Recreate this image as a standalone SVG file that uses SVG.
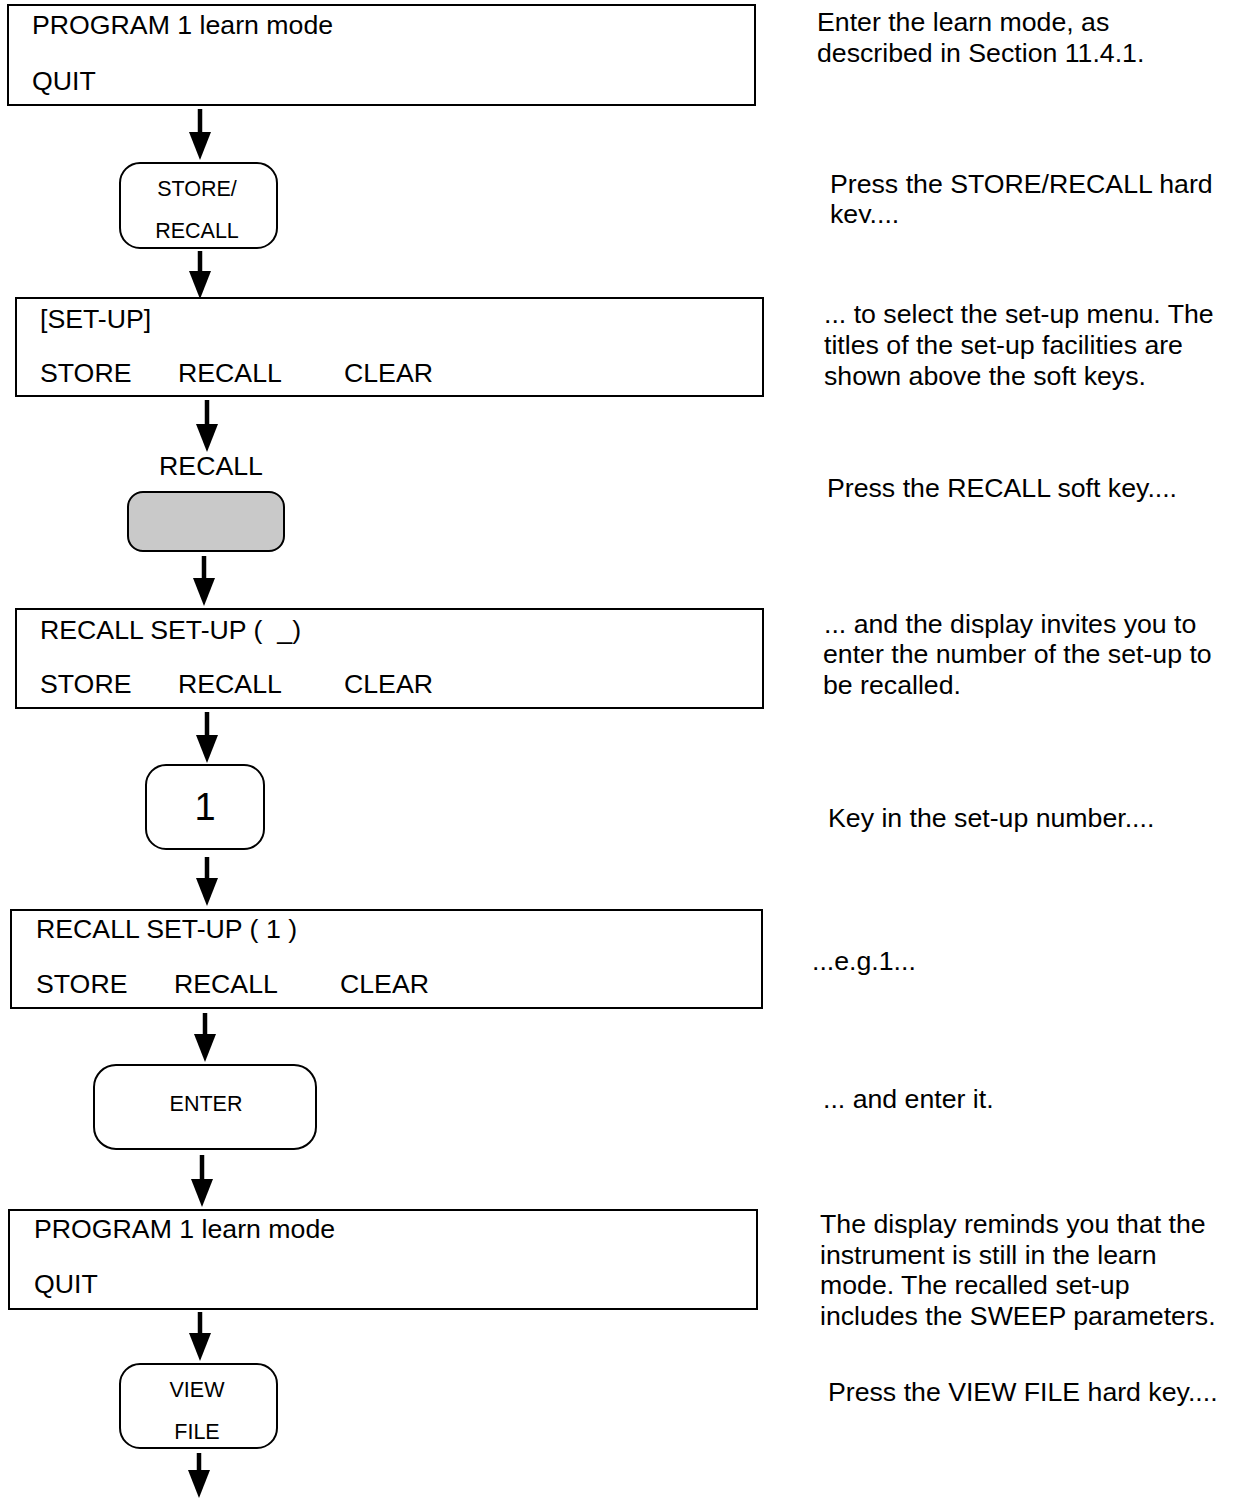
<svg xmlns="http://www.w3.org/2000/svg" width="1234" height="1499" viewBox="0 0 1234 1499">
<style>
.box{fill:#fff;stroke:#000;stroke-width:2}
.key{fill:#fff;stroke:#000;stroke-width:2}
.soft{fill:#c9c9c9;stroke:#000;stroke-width:2}
text{font-family:"Liberation Sans",Arial,sans-serif;fill:#000}
.t{font-size:26.7px}
.k{font-size:21.5px;text-anchor:middle}
.n{font-size:26.7px}
.arrow{stroke:#000;stroke-width:4.5;fill:none;marker-end:url(#ah)}
</style>
<defs>
<marker id="ah" markerUnits="userSpaceOnUse" markerWidth="28" markerHeight="22" viewBox="0 0 28 22" refX="18" refY="11" orient="auto">
<path d="M0,0 L28,11 L0,22 z" fill="#000"/>
</marker>
<clipPath id="clip2"><rect x="800" y="170" width="434" height="53"/></clipPath>
</defs>

<g id="connectors">
<line class="arrow" x1="200" y1="109" x2="200" y2="150"/>
<line class="arrow" x1="200" y1="251" x2="200" y2="289"/>
<line class="arrow" x1="207" y1="400" x2="207" y2="442"/>
<line class="arrow" x1="204" y1="556" x2="204" y2="596"/>
<line class="arrow" x1="207" y1="712" x2="207" y2="753"/>
<line class="arrow" x1="207" y1="857" x2="207" y2="896"/>
<line class="arrow" x1="205" y1="1013" x2="205" y2="1052"/>
<line class="arrow" x1="202" y1="1155" x2="202" y2="1197"/>
<line class="arrow" x1="200" y1="1312" x2="200" y2="1351"/>
<line class="arrow" x1="199" y1="1453" x2="199" y2="1488"/>
</g>

<g id="display1">
<rect class="box" x="8" y="5" width="747" height="100"/>
<text class="t" x="32" y="34">PROGRAM 1 learn mode</text>
<text class="t" x="32" y="90">QUIT</text>
</g>

<g id="key-store-recall">
<rect class="key" x="120" y="163" width="157" height="85" rx="20"/>
<text class="k" x="197" y="196">STORE/</text>
<text class="k" x="197" y="238">RECALL</text>
</g>

<g id="display2">
<rect class="box" x="16" y="298" width="747" height="98"/>
<text class="t" x="40" y="328">[SET-UP]</text>
<text class="t" x="40" y="382">STORE</text>
<text class="t" x="178" y="382">RECALL</text>
<text class="t" x="344" y="382">CLEAR</text>
</g>

<g id="softkey-recall">
<text class="t" x="211" y="475" text-anchor="middle">RECALL</text>
<rect class="soft" x="128" y="492" width="156" height="59" rx="15"/>
</g>

<g id="display3">
<rect class="box" x="16" y="609" width="747" height="99"/>
<text class="t" x="40" y="639" xml:space="preserve">RECALL SET-UP (  _)</text>
<text class="t" x="40" y="693">STORE</text>
<text class="t" x="178" y="693">RECALL</text>
<text class="t" x="344" y="693">CLEAR</text>
</g>

<g id="key-1">
<rect class="key" x="146" y="765" width="118" height="84" rx="20"/>
<text x="205" y="820" font-size="38" text-anchor="middle">1</text>
</g>

<g id="display4">
<rect class="box" x="11" y="910" width="751" height="98"/>
<text class="t" x="36" y="938">RECALL SET-UP ( 1 )</text>
<text class="t" x="36" y="993">STORE</text>
<text class="t" x="174" y="993">RECALL</text>
<text class="t" x="340" y="993">CLEAR</text>
</g>

<g id="key-enter">
<rect class="key" x="94" y="1065" width="222" height="84" rx="22"/>
<text class="k" x="206" y="1111">ENTER</text>
</g>

<g id="display5">
<rect class="box" x="9" y="1210" width="748" height="99"/>
<text class="t" x="34" y="1238">PROGRAM 1 learn mode</text>
<text class="t" x="34" y="1293">QUIT</text>
</g>

<g id="key-view-file">
<rect class="key" x="120" y="1364" width="157" height="84" rx="20"/>
<text class="k" x="197" y="1397">VIEW</text>
<text class="k" x="197" y="1439">FILE</text>
</g>

<g id="notes">
<text class="n" x="817" y="31">Enter the learn mode, as</text>
<text class="n" x="817" y="62">described in Section 11.4.1.</text>
<g clip-path="url(#clip2)">
<text class="n" x="830" y="193">Press the STORE/RECALL hard</text>
<text class="n" x="830" y="223">key....</text>
</g>
<text class="n" x="824" y="323">... to select the set-up menu. The</text>
<text class="n" x="824" y="354">titles of the set-up facilities are</text>
<text class="n" x="824" y="385">shown above the soft keys.</text>
<text class="n" x="827" y="497">Press the RECALL soft key....</text>
<text class="n" x="824" y="633">... and the display invites you to</text>
<text class="n" x="823" y="663">enter the number of the set-up to</text>
<text class="n" x="823" y="694">be recalled.</text>
<text class="n" x="828" y="827">Key in the set-up number....</text>
<text class="n" x="812" y="970">...e.g.1...</text>
<text class="n" x="823" y="1108">... and enter it.</text>
<text class="n" x="820" y="1233">The display reminds you that the</text>
<text class="n" x="820" y="1264">instrument is still in the learn</text>
<text class="n" x="820" y="1294">mode. The recalled set-up</text>
<text class="n" x="820" y="1325">includes the SWEEP parameters.</text>
<text class="n" x="828" y="1401">Press the VIEW FILE hard key....</text>
</g>
</svg>
